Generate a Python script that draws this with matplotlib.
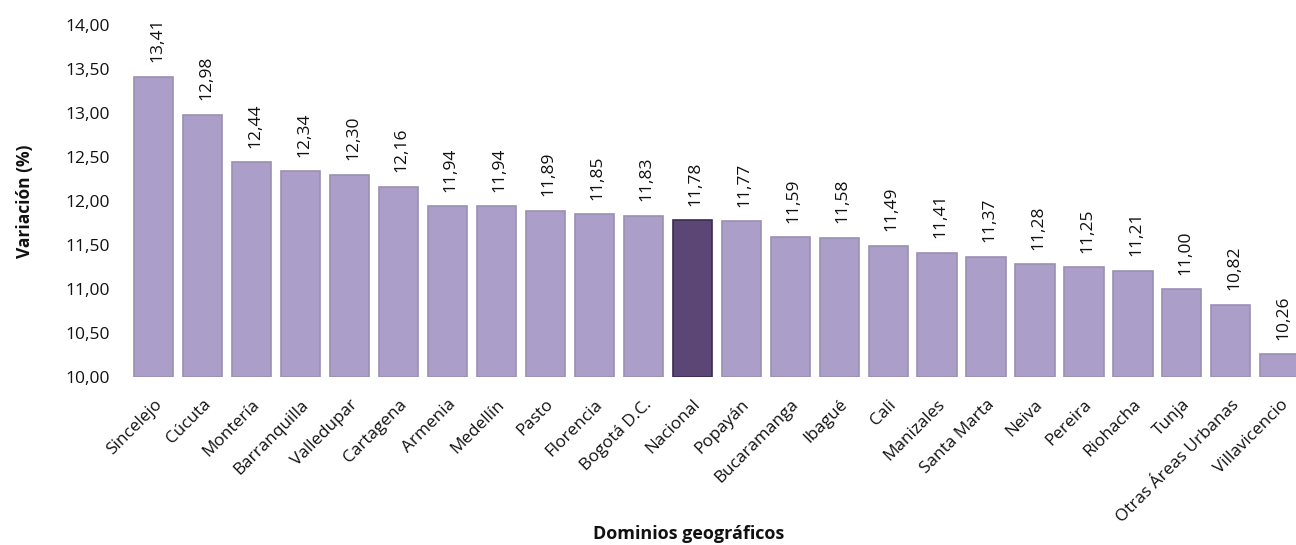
import matplotlib
matplotlib.use("Agg")
import matplotlib.pyplot as plt
from matplotlib.ticker import FuncFormatter

categories = ["Sincelejo", "Cúcuta", "Montería", "Barranquilla", "Valledupar", "Cartagena",
              "Armenia", "Medellín", "Pasto", "Florencia", "Bogotá D.C.", "Nacional",
              "Popayán", "Bucaramanga", "Ibagué", "Cali", "Manizales", "Santa Marta",
              "Neiva", "Pereira", "Riohacha", "Tunja", "Otras Áreas Urbanas", "Villavicencio"]
values = [13.41, 12.98, 12.44, 12.34, 12.30, 12.16, 11.94, 11.94, 11.89, 11.85, 11.83, 11.78,
          11.77, 11.59, 11.58, 11.49, 11.41, 11.37, 11.28, 11.25, 11.21, 11.00, 10.82, 10.26]
yticks = [10.0, 10.5, 11.0, 11.5, 12.0, 12.5, 13.0, 13.5, 14.0]

plt.rcParams['font.family'] = ['Open Sans', 'DejaVu Sans']

fig = plt.figure(figsize=(12.96, 5.45), dpi=100)
ax = fig.add_axes([0.1, 0.308, 0.9, 0.646])

light = "#ab9fca"
light_edge = "#9a90b2"
dark = "#5c4676"
dark_edge = "#3b2c52"
colors = [dark if c == "Nacional" else light for c in categories]
edges = [dark_edge if c == "Nacional" else light_edge for c in categories]

x = list(range(len(categories)))
ax.bar(x, [v - 10 for v in values], bottom=10, width=0.8, color=colors,
       edgecolor=edges, linewidth=1.2)

for xi, v in zip(x, values):
    ax.annotate(f"{v:.2f}".replace(".", ","), (xi, v), xytext=(2.5, 10.5),
                textcoords="offset points", rotation=90, ha="center", va="bottom",
                fontsize=12.5, color="#111111")

ax.set_ylim(10, 14)
ax.set_yticks(yticks)
ax.yaxis.set_major_formatter(FuncFormatter(lambda v, p: f"{v:.2f}".replace(".", ",")))
ax.set_xlim(-0.49, 23.33)
ax.set_xticks(x)
ax.set_xticklabels(categories, rotation=45, ha="right", rotation_mode="anchor",
                   fontsize=12.3, color="#111111")
ax.tick_params(axis="y", labelsize=12.5, length=0, pad=14, labelcolor="#111111")
ax.tick_params(axis="x", length=0, pad=14)
for s in ax.spines.values():
    s.set_visible(False)

ax.set_ylabel("Variación (%)", fontsize=12.5, fontweight="bold", color="#111111")
ax.yaxis.set_label_coords(-0.1 * 1296 / 1166 + 34 / 1166, 0.5)
fig.text(689 / 1296, 1 - 534 / 545, "Dominios geográficos", ha="center", va="center",
         fontsize=13, fontweight="bold", color="#111111")

fig.savefig("out.png", dpi=100)
